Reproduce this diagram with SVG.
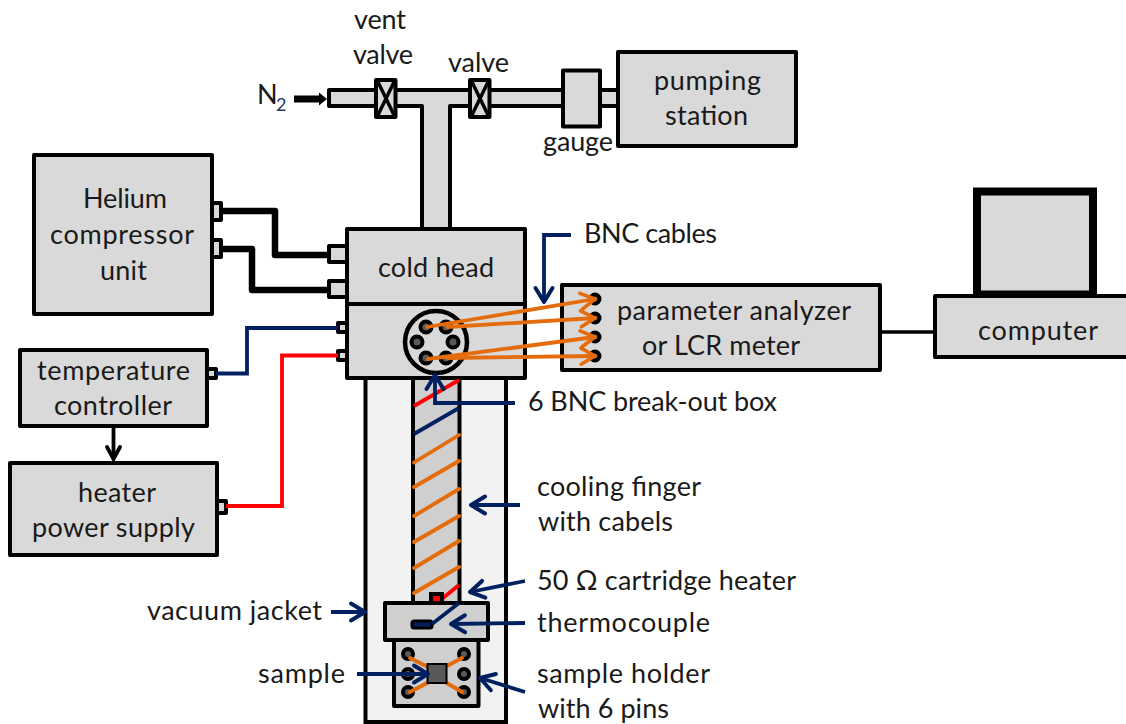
<svg xmlns="http://www.w3.org/2000/svg" width="1126" height="724" viewBox="0 0 1126 724">
<defs>
<marker id="na" markerUnits="userSpaceOnUse" markerWidth="20" markerHeight="24" refX="17" refY="10" orient="auto" overflow="visible"><path d="M3 1.500 L17 10 L3 18.500" fill="none" stroke="#002060" stroke-width="4" stroke-linecap="round" stroke-linejoin="round"/></marker>
<marker id="oa" markerUnits="userSpaceOnUse" markerWidth="20" markerHeight="20" refX="16" refY="9" orient="auto" overflow="visible"><path d="M2 1 L16 9 L2 17" fill="none" stroke="#e46c0a" stroke-width="3.600" stroke-linecap="round" stroke-linejoin="round"/></marker>
</defs>
<style>
text{font-family:"Lato","Open Sans",sans-serif;font-size:27px;fill:#1a1a1a}
.b{fill:#d9d9d9;stroke:#000;stroke-width:4;stroke-linejoin:round}
.d{fill:#cfcfcf;stroke:#000;stroke-width:4;stroke-linejoin:round}
.c{fill:none;stroke:#000;stroke-width:6.500;stroke-linejoin:round}
.n{fill:none;stroke:#002060;stroke-width:3.800}
.r{fill:none;stroke:#f00;stroke-width:3.800}
.o{fill:none;stroke:#e46c0a;stroke-width:3.800;stroke-linecap:round}
.p{fill:#595959;stroke:#000;stroke-width:4}
</style>
<g id="vacuum-jacket"><rect x="365.500" y="378" width="140.500" height="344" fill="#f2f2f2" stroke="#000" stroke-width="4"/></g>
<g id="pipes">
<path class="b" d="M329 90 H570 V106 H450 V229 H422 V106 H329 Z"/>
<rect class="b" x="600" y="90" width="20" height="16"/>
</g>
<g id="vent-valve"><rect class="b" x="376" y="80" width="19.500" height="37"/><path d="M378 82 L394 115 M394 82 L378 115" stroke="#000" stroke-width="3.500" fill="none"/></g>
<g id="valve"><rect class="b" x="470" y="80" width="19.500" height="37"/><path d="M472 82 L488 115 M488 82 L472 115" stroke="#000" stroke-width="3.500" fill="none"/></g>
<g id="gauge"><rect class="b" x="563" y="70.500" width="37" height="56"/></g>
<g id="pumping-station"><rect class="b" x="618" y="52" width="178" height="94"/><text x="654" y="90" textLength="107">pumping</text><text x="665" y="125" textLength="83">station</text></g>
<g id="helium-compressor"><rect class="b" x="34" y="155" width="178" height="159"/><text x="83" y="208" textLength="84">Helium</text><text x="50" y="244" textLength="144">compressor</text><text x="100" y="280" textLength="47">unit</text>
<rect class="b" x="212" y="203" width="9" height="17"/><rect class="b" x="212" y="240" width="9" height="17"/></g>
<g id="cold-head"><rect class="b" x="347" y="229" width="178" height="75"/><text x="378" y="277" textLength="116">cold head</text>
<rect class="b" x="329" y="246" width="18" height="16"/><rect class="b" x="329" y="281" width="18" height="16"/></g>
<g id="break-out-box"><rect class="b" x="347" y="304" width="178" height="74"/>
<rect class="b" x="338" y="323" width="9" height="9"/><rect class="b" x="338" y="351" width="9" height="9"/>
<circle cx="436" cy="342" r="31" fill="#d9d9d9" stroke="#000" stroke-width="4.500"/>
<circle class="p" cx="426" cy="327" r="5.500"/><circle class="p" cx="446" cy="327" r="5.500"/><circle class="p" cx="417" cy="342" r="5.500"/><circle class="p" cx="453" cy="342" r="5.500"/><circle class="p" cx="426" cy="358" r="5.500"/><circle class="p" cx="446" cy="358" r="5.500"/></g>
<g id="parameter-analyzer"><rect class="b" x="562" y="285" width="318" height="85"/><text x="617" y="320" textLength="234">parameter analyzer</text><text x="642" y="355" textLength="158">or LCR meter</text>
<circle class="p" cx="595" cy="299" r="4.500"/><circle class="p" cx="595" cy="318" r="4.500"/><circle class="p" cx="595" cy="337" r="4.500"/><circle class="p" cx="595" cy="356" r="4.500"/></g>
<g id="computer"><rect x="977" y="191.500" width="116" height="103" fill="#d9d9d9" stroke="#000" stroke-width="8"/><rect class="b" x="935" y="296" width="200" height="61"/><text x="978" y="340" textLength="120">computer</text></g>
<g id="temperature-controller"><rect class="b" x="20" y="350" width="187" height="76"/><text x="37" y="380" textLength="153">temperature</text><text x="54" y="415" textLength="118">controller</text><rect class="b" x="207" y="369" width="9" height="9"/></g>
<g id="heater-power-supply"><rect class="b" x="10" y="463" width="207" height="92"/><text x="78" y="502" textLength="78">heater</text><text x="32" y="537" textLength="163">power supply</text><rect class="b" x="217" y="501" width="9" height="12"/></g>
<g id="cooling-finger"><rect x="413" y="378" width="46.500" height="225" fill="#cfcfcf" stroke="#000" stroke-width="4"/>
<path class="r" d="M414 406 L459 380"/><path class="n" d="M414 434 L459 408"/>
<path class="o" d="M414 462.500 L459 435 M414 487 L459 461 M414 516 L459 489 M414 542 L459 516 M414 568 L459 541 M414 593 L459 567" stroke-linecap="butt"/>
<path class="r" d="M443 598 L459 585"/></g>
<g id="heater-block"><rect class="d" x="385" y="603" width="103" height="37"/><rect x="431" y="594" width="11" height="9" fill="#f00" stroke="#000" stroke-width="4"/>
<rect x="412" y="621" width="20" height="7" rx="2" fill="#002060" stroke="#000" stroke-width="3"/><path class="n" d="M432 624 L459 603"/></g>
<g id="sample-holder"><rect class="d" x="394" y="640" width="84.500" height="66"/>
<circle class="p" cx="408" cy="654" r="5"/><circle class="p" cx="408" cy="674" r="5"/><circle class="p" cx="408" cy="692" r="5"/><circle class="p" cx="464" cy="654" r="5"/><circle class="p" cx="464" cy="674" r="5"/><circle class="p" cx="464" cy="692" r="5"/>
<path class="o" d="M410 658 L428 667 M462 658 L445 667 M410 692 L429 682 M462 692 L445 682" stroke-linecap="butt"/>
<rect x="427.500" y="664" width="19" height="19" fill="#595959" stroke="#000" stroke-width="2"/></g>
<g id="connectors">
<path class="c" d="M221 211 H275 V255 H329"/>
<path class="c" d="M221 249 H252 V290 H329"/>
<path class="n" d="M216 373.500 H247 V328 H338"/>
<path class="r" d="M226 506 H282 V355.500 H338"/>
<path d="M880 332 H935" stroke="#000" stroke-width="3.500" fill="none"/>
<path d="M113.500 426 V458" stroke="#000" stroke-width="3.800" fill="none"/><path d="M107 447 L113.500 459 L120 447" stroke="#000" stroke-width="3.800" fill="none" stroke-linecap="round"/>
<path d="M294 99 H320" stroke="#000" stroke-width="7"/><path d="M319 92.500 L327 99 L319 105.500 Z" fill="#000"/>
<path class="o" d="M427 327 L595 299" marker-end="url(#oa)"/><path class="o" d="M447 327 L595 318" marker-end="url(#oa)"/><path class="o" d="M428 359 L595 337" marker-end="url(#oa)"/><path class="o" d="M447 358 L595 356" marker-end="url(#oa)"/>
<path class="n" d="M571 235 H544 V302" marker-end="url(#na)"/>
<path class="n" d="M515 403 H435 V375" marker-end="url(#na)"/>
<path class="n" d="M520 505 H471" marker-end="url(#na)"/>
<path class="n" d="M525 581 L470 592" marker-end="url(#na)"/>
<path class="n" d="M525 623 L451 624" marker-end="url(#na)"/>
<path class="n" d="M525 692 L480 678" marker-end="url(#na)"/>
<path class="n" d="M331 612 H365" marker-end="url(#na)"/>
<path class="n" d="M357 674 H428" marker-end="url(#na)"/>
</g>
<g id="labels">
<text x="354" y="29" textLength="52">vent</text><text x="353" y="64" textLength="60">valve</text><text x="448" y="72" textLength="61">valve</text>
<text x="257" y="104">N</text><text x="276" y="111" style="font-size:18px;fill:#1f3864">2</text>
<text x="543" y="151" textLength="70">gauge</text>
<text x="584" y="243" textLength="133">BNC cables</text>
<text x="528" y="411" textLength="249">6 BNC break-out box</text>
<text x="537" y="496" textLength="164">cooling finger</text><text x="538" y="531" textLength="135">with cabels</text>
<text x="537" y="590" textLength="259">50 Ω cartridge heater</text>
<text x="537" y="632" textLength="173">thermocouple</text>
<text x="537" y="683" textLength="173">sample holder</text><text x="538" y="718" textLength="131">with 6 pins</text>
<text x="147" y="620" textLength="175">vacuum jacket</text>
<text x="258" y="683" textLength="87">sample</text>
</g>
</svg>
